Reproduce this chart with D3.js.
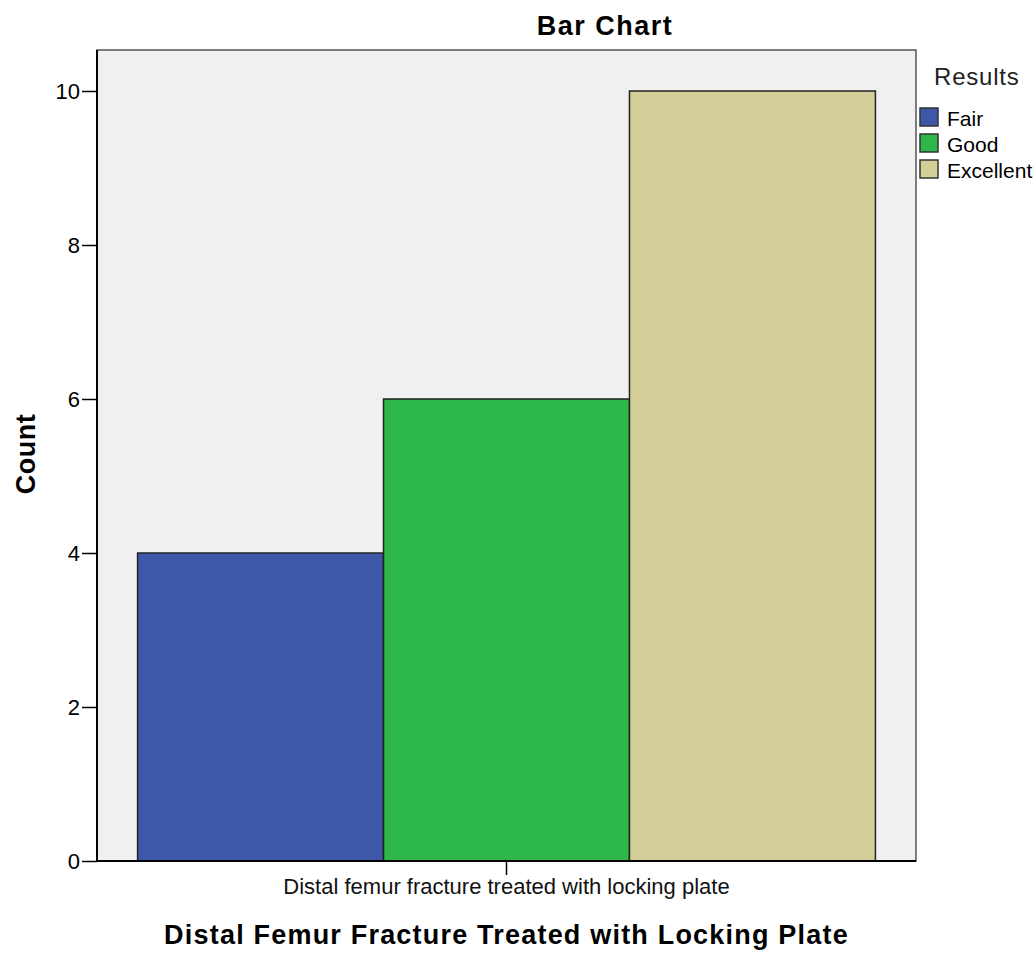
<!DOCTYPE html>
<html>
<head>
<meta charset="utf-8">
<script src="https://cdn.jsdelivr.net/npm/d3@7"></script>
<style>
  body { margin: 0; background: #fff; }
  text { font-family: "Liberation Sans", Arial, sans-serif; }
</style>
</head>
<body>
<div id="main"></div>
<script>
const ctx = {
    w: 1036,
    h: 953,
};

// chart data
const categories = ["Distal femur fracture treated with locking plate"];
const results = ["Fair", "Good", "Excellent"];
const counts = [4, 6, 10];
const colors = ["#3d57a9", "#2eb84b", "#d4cf98"];
const yTicks = [0, 2, 4, 6, 8, 10];

function createViz() {
    let svgEl = d3.select("#main").append("svg")
        .attr("width", ctx.w)
        .attr("height", ctx.h);

    const plot = {left: 97, top: 50, right: 916, bottom: 861};

    const x = d3.scaleBand()
        .domain(categories)
        .range([plot.left, plot.right])
        .paddingInner(0)
        .paddingOuter(0.055);

    const xSub = d3.scaleBand()
        .domain(results)
        .range([0, x.bandwidth()]);

    const y = d3.scaleLinear()
        .domain([0, 10])
        .range([plot.bottom, 91]);

    // plot background
    svgEl.append("rect")
        .attr("x", plot.left)
        .attr("y", plot.top)
        .attr("width", plot.right - plot.left)
        .attr("height", plot.bottom - plot.top)
        .style("fill", "#f0f0f0")
        .style("stroke", "#555")
        .style("stroke-width", 1.5);

    // bars
    const g = svgEl.append("g")
        .attr("transform", `translate(${x(categories[0])},0)`);
    g.selectAll(".bar")
        .data(results)
        .enter().append("rect")
        .attr("class", "bar")
        .attr("x", d => xSub(d))
        .attr("y", (d, i) => y(counts[i]))
        .attr("width", xSub.bandwidth())
        .attr("height", (d, i) => y(0) - y(counts[i]))
        .style("fill", (d, i) => colors[i])
        .style("stroke", "#222")
        .style("stroke-width", 1.5);

    // y axis
    const yAxis = svgEl.append("g")
        .attr("transform", `translate(${plot.left},0)`)
        .call(d3.axisLeft(y).tickValues(yTicks).tickSize(15).tickPadding(2).tickSizeOuter(0));
    yAxis.select(".domain").attr("d", `M0,${plot.top}V${plot.bottom}`).style("stroke", "#000").style("stroke-width", 2);
    yAxis.selectAll(".tick line").style("stroke", "#000").style("stroke-width", 1.5);
    yAxis.selectAll(".tick text")
        .style("font-size", "22px")
        .style("fill", "#000")
        .style("font-family", "Liberation Sans, Arial, sans-serif");

    // x axis
    const xAxis = svgEl.append("g")
        .attr("transform", `translate(0,${plot.bottom})`)
        .call(d3.axisBottom(x).tickSize(14).tickPadding(3).tickSizeOuter(0));
    xAxis.select(".domain").attr("d", `M${plot.left},0H${plot.right}`).style("stroke", "#000").style("stroke-width", 2);
    xAxis.selectAll(".tick line").style("stroke", "#000").style("stroke-width", 1.5);
    xAxis.selectAll(".tick text")
        .style("font-size", "22px")
        .style("fill", "#111")
        .style("font-family", "Liberation Sans, Arial, sans-serif");

    // titles
    svgEl.append("text")
        .attr("x", 605)
        .attr("y", 35)
        .attr("text-anchor", "middle")
        .style("font-size", "27px")
        .style("font-weight", "bold")
        .style("letter-spacing", "1.5px")
        .text("Bar Chart");

    svgEl.append("text")
        .attr("transform", `translate(35,454) rotate(-90)`)
        .attr("text-anchor", "middle")
        .style("font-size", "27px")
        .style("font-weight", "bold")
        .style("letter-spacing", "0.5px")
        .text("Count");

    svgEl.append("text")
        .attr("x", (plot.left + plot.right) / 2)
        .attr("y", 944)
        .attr("text-anchor", "middle")
        .style("font-size", "27px")
        .style("font-weight", "bold")
        .style("letter-spacing", "1.2px")
        .text("Distal Femur Fracture Treated with Locking Plate");

    // legend
    const legend = svgEl.append("g").attr("transform", "translate(920,0)");
    legend.append("text")
        .attr("x", 14)
        .attr("y", 85)
        .style("font-size", "24px")
        .style("letter-spacing", "0.8px")
        .style("fill", "#222")
        .text("Results");
    const items = legend.selectAll(".item")
        .data(results)
        .enter().append("g")
        .attr("class", "item")
        .attr("transform", (d, i) => `translate(0,${108 + i * 26})`);
    items.append("rect")
        .attr("width", 18)
        .attr("height", 18)
        .style("fill", (d, i) => colors[i])
        .style("stroke", "#333")
        .style("stroke-width", 1.5);
    items.append("text")
        .attr("x", 27)
        .attr("y", 18)
        .style("font-size", "21px")
        .style("fill", "#000")
        .text(d => d);
}

createViz();
</script>
</body>
</html>
